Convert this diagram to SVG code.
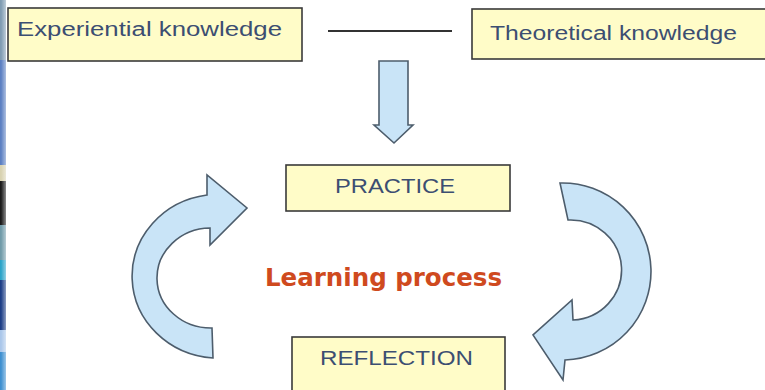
<svg xmlns="http://www.w3.org/2000/svg" width="765" height="390" viewBox="0 0 765 390">
  <defs>
    <style>
      .box { fill: #fffcc8; stroke: #3a3a3a; stroke-width: 1.6; }
      .label { font-family: "Liberation Sans", "DejaVu Sans", sans-serif; font-size: 20px; fill: #3c4e72; }
      .arrow { fill: #c9e4f7; stroke: #4d5d6c; stroke-width: 1.6; stroke-linejoin: miter; }
      .title { font-family: "DejaVu Sans", "Liberation Sans", sans-serif; font-weight: bold; font-size: 24px; fill: #cf4a1e; }
    </style>
    <linearGradient id="fade" x1="0" y1="0" x2="1" y2="0">
      <stop offset="0" stop-color="#ffffff" stop-opacity="0"/>
      <stop offset="1" stop-color="#ffffff" stop-opacity="1"/>
    </linearGradient>
  </defs>

  <rect x="0" y="0" width="765" height="390" fill="#ffffff"/>

  <!-- window edge strip on the left -->
  <g id="edge-strip">
    <rect x="0" y="0" width="6" height="60" fill="#7f9bb2"/>
    <rect x="0" y="60" width="6" height="105" fill="#5b7fc2"/>
    <rect x="0" y="165" width="6" height="16" fill="#d8d2b0"/>
    <rect x="0" y="181" width="6" height="44" fill="#1a1a1a"/>
    <rect x="0" y="225" width="6" height="35" fill="#6f9aa8"/>
    <rect x="0" y="260" width="6" height="20" fill="#2aa3c8"/>
    <rect x="0" y="280" width="6" height="50" fill="#1c3d86"/>
    <rect x="0" y="330" width="6" height="22" fill="#a9c6ea"/>
    <rect x="0" y="352" width="6" height="38" fill="#3d8fd0"/>
    <rect x="1" y="0" width="10" height="390" fill="url(#fade)"/>
  </g>

  <g id="experiential">
    <rect class="box" x="8" y="8" width="294" height="53"/>
    <text class="label" x="17" y="36" textLength="265" lengthAdjust="spacingAndGlyphs">Experiential knowledge</text>
  </g>

  <g id="theoretical">
    <rect class="box" x="472" y="9" width="300" height="50"/>
    <text class="label" x="490" y="40" textLength="247" lengthAdjust="spacingAndGlyphs">Theoretical knowledge</text>
  </g>

  <g id="practice">
    <rect class="box" x="286" y="165" width="224" height="46"/>
    <text class="label" x="335" y="193" textLength="120" lengthAdjust="spacingAndGlyphs">PRACTICE</text>
  </g>

  <g id="reflection">
    <rect class="box" x="292" y="337" width="213" height="60"/>
    <text class="label" x="320" y="365" textLength="153" lengthAdjust="spacingAndGlyphs">REFLECTION</text>
  </g>

  <g id="learning-process">
    <text class="title" x="265" y="286" textLength="237" lengthAdjust="spacingAndGlyphs">Learning process</text>
  </g>

  <g id="connectors">
    <!-- link between the two kinds of knowledge -->
    <line x1="328" y1="31" x2="452" y2="31" stroke="#333333" stroke-width="2"/>
    <!-- block arrow down into practice -->
    <path class="arrow" d="M379 61 H408 V125 H413 L394 143 L374 125 H379 Z"/>
    <!-- curved arrow on the left, reflection back up to practice -->
    <path class="arrow" d="M213 358 A87 82 0 0 1 207 195 L207 175 L247 208 L210 245 L210 228 A54 50 0 0 0 212 328 Z"/>
    <!-- curved arrow on the right, practice down to reflection -->
    <path class="arrow" d="M560 183 A88 88 0 0 1 565 360 L563 380 L533 335 L572 300 L573 320 A51 50 0 0 0 568 220 Z"/>
  </g>
</svg>
